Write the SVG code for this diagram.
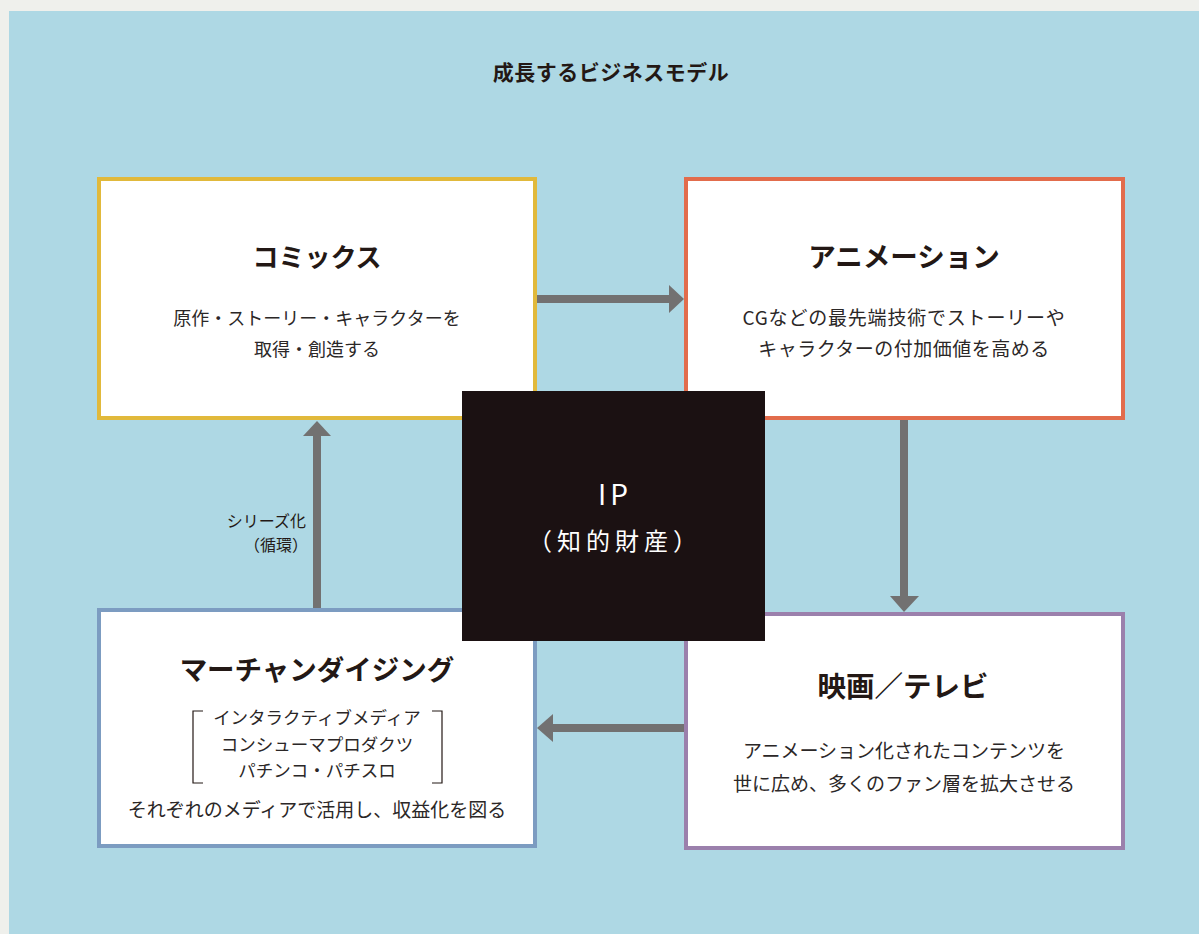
<svg xmlns="http://www.w3.org/2000/svg" width="1199" height="934" viewBox="0 0 1199 934">
<defs>
<style>
text{font-family:"Noto Sans CJK JP","Noto Sans",sans-serif;fill:#231815}
.ttl{font-size:27.5px;font-weight:bold;text-anchor:middle}
.body{font-size:19px;text-anchor:middle;fill:#2b2727}
.box{fill:#ffffff;stroke-width:4}
.conn{stroke:#727171;stroke-width:8;fill:none}
.head{fill:#727171}
</style>
</defs>
<rect x="0" y="0" width="1199" height="934" fill="#eff0ec"/>
<rect x="9" y="11" width="1190" height="923" fill="#aed8e4"/>
<text x="611" y="80" style="font-size:21px;font-weight:bold;text-anchor:middle;letter-spacing:0.5px">成長するビジネスモデル</text>

<g id="connectors">
<line class="conn" x1="537" y1="299" x2="670" y2="299"/>
<polygon class="head" points="669,285 684,299 669,313"/>
<line class="conn" x1="904" y1="420" x2="904" y2="598"/>
<polygon class="head" points="890,596 919,596 904,612"/>
<line class="conn" x1="684" y1="728" x2="551" y2="728"/>
<polygon class="head" points="553,714 537,728 553,742"/>
<line class="conn" x1="317" y1="608" x2="317" y2="434"/>
<polygon class="head" points="303,436 331,436 317,421"/>
<text x="306" y="527" style="font-size:16px;text-anchor:end">シリーズ化</text>
<text x="308" y="551" style="font-size:16px;text-anchor:end">（循環）</text>
</g>

<g id="comics">
<rect class="box" x="99" y="179" width="436" height="239" stroke="#e1b93b"/>
<text class="ttl" x="317" y="267" style="font-size:26px">コミックス</text>
<text class="body" x="317" y="325" style="font-size:18px">原作・ストーリー・キャラクターを</text>
<text class="body" x="317" y="356" style="font-size:18px">取得・創造する</text>
</g>

<g id="animation">
<rect class="box" x="686" y="179" width="437" height="239" stroke="#e26c4c"/>
<text class="ttl" x="904" y="267">アニメーション</text>
<text class="body" x="904" y="325" style="letter-spacing:0.8px">CGなどの最先端技術でストーリーや</text>
<text class="body" x="904" y="356" style="letter-spacing:0.5px">キャラクターの付加価値を高める</text>
</g>

<g id="merchandising">
<rect class="box" x="99" y="610" width="436" height="236" stroke="#7c9cc1"/>
<text class="ttl" x="317" y="680">マーチャンダイジング</text>
<path d="M203,711 H193 V783 H203 M432,711 H442 V783 H432" fill="none" stroke="#231815" stroke-width="1.2"/>
<text class="body" x="317" y="724" style="font-size:17.5px">インタラクティブメディア</text>
<text class="body" x="317" y="751" style="font-size:17.5px">コンシューマプロダクツ</text>
<text class="body" x="317" y="777" style="font-size:17.5px">パチンコ・パチスロ</text>
<text class="body" x="317" y="817">それぞれのメディアで活用し、収益化を図る</text>
</g>

<g id="movie">
<rect class="box" x="686" y="614" width="437" height="234" stroke="#9b80ac"/>
<text class="ttl" x="903" y="697" style="font-size:28.5px">映画／テレビ</text>
<text class="body" x="904" y="758">アニメーション化されたコンテンツを</text>
<text class="body" x="904" y="791">世に広め、多くのファン層を拡大させる</text>
</g>

<g id="ip">
<rect x="462" y="391" width="303" height="250" fill="#1b1112"/>
<text x="615" y="505" style="font-size:28px;fill:#ffffff;text-anchor:middle;letter-spacing:4px">IP</text>
<text x="615" y="550" style="font-size:24px;fill:#ffffff;text-anchor:middle;letter-spacing:5px">（知的財産）</text>
</g>
</svg>
